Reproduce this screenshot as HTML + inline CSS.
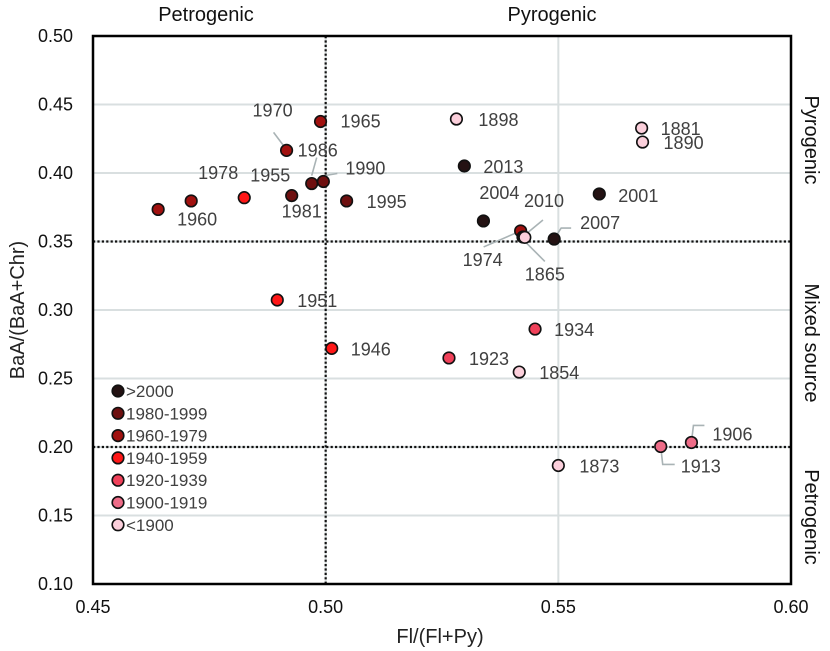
<!DOCTYPE html>
<html><head><meta charset="utf-8"><style>
html,body{margin:0;padding:0;background:#fff}
svg{display:block;font-family:"Liberation Sans",sans-serif}
</style></head><body>
<svg id="chart" width="830" height="651" viewBox="0 0 830 651" xmlns="http://www.w3.org/2000/svg">
<g id="grid"></g>
<g id="refs"></g>
<g id="leaders"></g>
<g id="points"></g>
<g id="labels"></g>
<rect x="93" y="36" width="698" height="548" fill="none" stroke="#000" stroke-width="2.5"/>
<g id="ticks"></g>
<g id="legend"></g>
<text x="440" y="643" text-anchor="middle" font-size="20" fill="#222">Fl/(Fl+Py)</text>
<text transform="translate(24,310) rotate(-90)" text-anchor="middle" font-size="20" fill="#222">BaA/(BaA+Chr)</text>
<text x="206" y="21" text-anchor="middle" font-size="20" fill="#111">Petrogenic</text>
<text x="552" y="21" text-anchor="middle" font-size="20" fill="#111">Pyrogenic</text>
<text transform="translate(805,140) rotate(90)" text-anchor="middle" font-size="20" fill="#111">Pyrogenic</text>
<text transform="translate(805,343) rotate(90)" text-anchor="middle" font-size="20" fill="#111">Mixed source</text>
<text transform="translate(805,517) rotate(90)" text-anchor="middle" font-size="20" fill="#111">Petrogenic</text>
</svg>
<script>
const years = ["1960","1978","1955","1981","1970","1965","1986","1990","1995","1951","1898","2013","2004","1974","2010","1865","2007","2001","1881","1890","1934","1946","1923","1854","1873","1913","1906"];
const xValues = [0.4640,0.4711,0.4825,0.4927,0.4916,0.4989,0.4970,0.4995,0.5045,0.4896,0.5281,0.5298,0.5339,0.5419,0.5424,0.5428,0.5491,0.5588,0.5679,0.5681,0.5450,0.5013,0.5265,0.5416,0.5500,0.5720,0.5786];
const yValues = [0.3734,0.3796,0.3820,0.3835,0.4165,0.4376,0.3923,0.3938,0.3796,0.3073,0.4394,0.4051,0.3650,0.3577,0.3533,0.3530,0.3518,0.3847,0.4328,0.4226,0.2861,0.2720,0.2650,0.2547,0.1865,0.2004,0.2033];
const groups = [2,2,3,1,2,2,1,1,1,3,6,0,0,2,0,6,0,0,6,6,4,3,4,6,6,5,5];
const groupNames = [">2000","1980-1999","1960-1979","1940-1959","1920-1939","1900-1919","<1900"];
const xTicks = ["0.45","0.50","0.55","0.60"];
const yTicks = ["0.10","0.15","0.20","0.25","0.30","0.35","0.40","0.45","0.50"];
// label layout: [dx, dy, anchor] relative to point, leader: optional polyline offsets
const labelLayout = [[39,16,"middle"],[27,-22,"middle"],[26,-16,"middle"],[10,22,"middle"],[-14,-34,"middle"],[20,6,"start"],[6,-27,"middle"],[22,-7,"start"],[20,7,"start"],[20,7,"start"],[22,7,"start"],[19,7,"start"],[16,-22,"middle"],[-38,35,"middle"],[21,-30,"middle"],[20,43,"middle"],[26,-10,"start"],[19,8,"start"],[19,7,"start"],[21,7,"start"],[19,7,"start"],[19,7,"start"],[20,7,"start"],[20,7,"start"],[21,7,"start"],[20,26,"start"],[21,-2,"start"]];
const leaderLayout = {4:[[-13,-18],[-1,-2]],6:[[5,-26],[0,-8]],7:[[14,-8],[2,-6]],13:[[-37,16],[0,0]],14:[[20,-17],[-3,2]],15:[[20,24],[0,4]],16:[[17,-11],[7,-11],[0,0]],25:[[0,0],[2,18],[14,18]],26:[[0,0],[2,-17],[13,-17]]};
const colors = ["#241213","#6e1010","#a1110f","#ff1717","#f0415a","#ee6c88","#fbcfdb"];

const NS="http://www.w3.org/2000/svg";
const X0=93,X1=791,Y0=584,Y1=36;
function xScale(v){return X0+(v-0.45)/0.15*(X1-X0);}
function yScale(v){return Y0-(v-0.10)/0.40*(Y0-Y1);}
function mk(tag,attrs,parent){const e=document.createElementNS(NS,tag);for(const k in attrs)e.setAttribute(k,attrs[k]);parent.appendChild(e);return e;}
const grid=document.getElementById('grid'),refs=document.getElementById('refs'),ticks=document.getElementById('ticks');
yTicks.forEach(t=>{const y=yScale(+t);
  const l=mk('line',{x1:X0,x2:X1,y1:y,y2:y,stroke:"#d9dfe0","stroke-width":2},grid);
  
  
  const tx=mk('text',{x:73,y:y+6,"text-anchor":"end","font-size":18,fill:"#111"},ticks);
  tx.textContent=t;
  
  
});
xTicks.forEach(t=>{const x=xScale(+t);
  const l=mk('line',{x1:x,x2:x,y1:Y1,y2:Y0,stroke:"#d9dfe0","stroke-width":2},grid);
  
  
  const tx=mk('text',{x:x,y:613,"text-anchor":"middle","font-size":18,fill:"#111"},ticks);
  tx.textContent=t;
  
  
});
[[0.35],[0.20]].forEach(v=>{const y=yScale(v[0]);
  const l=mk('line',{x1:X0,x2:X1,y1:y,y2:y,stroke:"#111","stroke-width":2.2,"stroke-dasharray":"2.2 2.2"},refs);
  
  
});
{const x=xScale(0.50);
  const l=mk('line',{x1:x,x2:x,y1:Y1,y2:Y0,stroke:"#111","stroke-width":2.2,"stroke-dasharray":"2.2 2.2"},refs);
  
  }
const pts=document.getElementById('points'),labs=document.getElementById('labels'),leads=document.getElementById('leaders');
years.forEach((yr,i)=>{
  const cx=xScale(xValues[i]),cy=yScale(yValues[i]);
  if(leaderLayout[i]){
    const p=leaderLayout[i].map(o=>(cx+o[0])+","+(cy+o[1])).join(" ");
    const pl=mk('polyline',{points:p,fill:"none",stroke:"#a9b3b5","stroke-width":1.6},leads);
    
    
  }
  const c=mk('circle',{cx:cx,cy:cy,r:5.8,fill:colors[groups[i]],stroke:"#111","stroke-width":1.6},pts);
  
  
  const L=labelLayout[i];
  const t=mk('text',{x:cx+L[0],y:cy+L[1],"text-anchor":L[2],"font-size":18,fill:"#404040"},labs);
  t.textContent=yr;
  
  
});
const lg=document.getElementById('legend');
groupNames.forEach((n,i)=>{
  const y=391+i*22.3;
  const c=mk('circle',{cx:118,cy:y,r:5.8,fill:colors[i],stroke:"#111","stroke-width":1.6},lg);
  
  
  const t=mk('text',{x:126,y:y+6,"font-size":17,fill:"#404040"},lg);
  t.textContent=n;
  
  
});
</script>
</body></html>
